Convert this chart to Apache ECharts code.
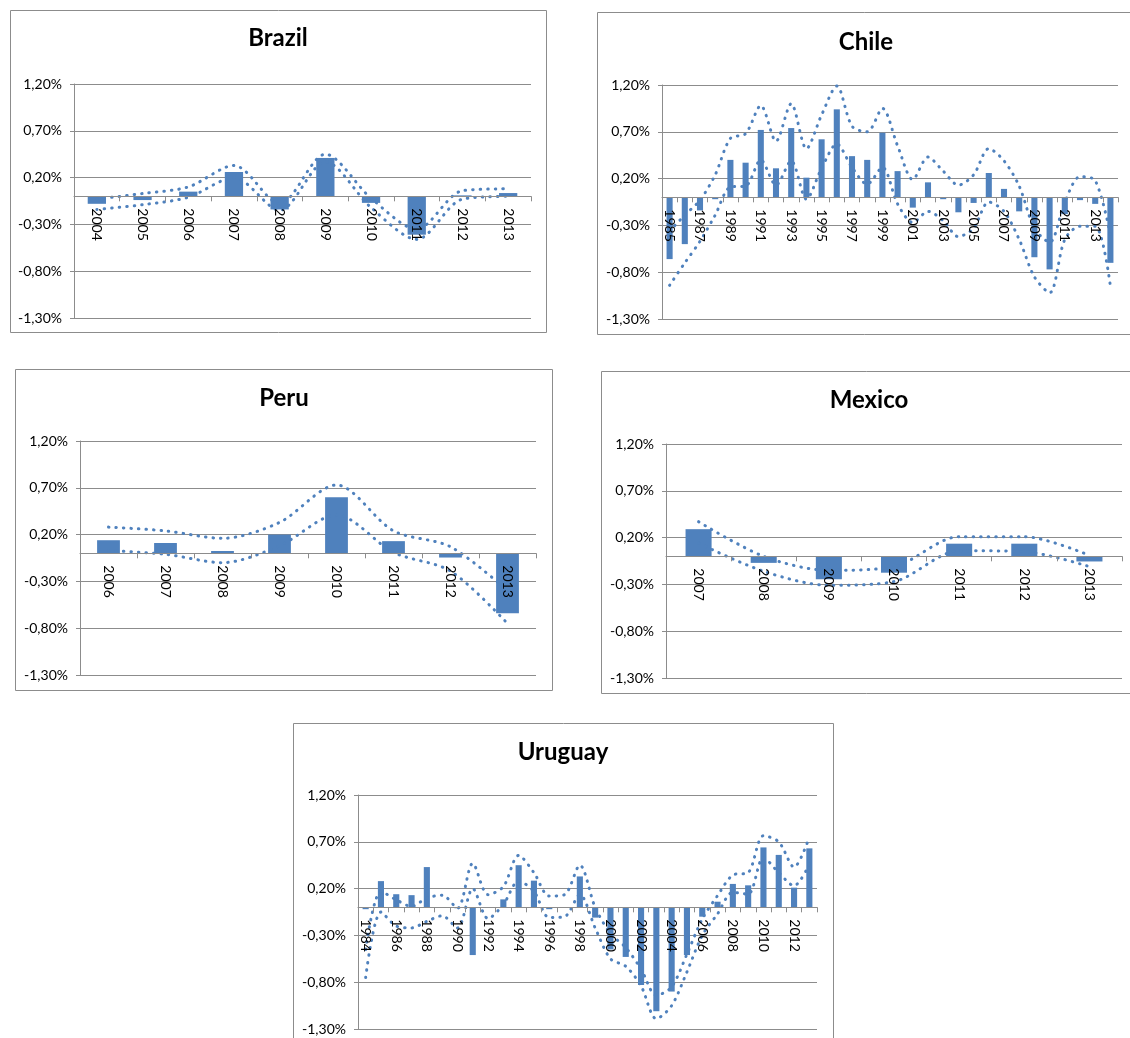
<!DOCTYPE html>
<html>
<head>
<meta charset="utf-8">
<script src="https://cdn.jsdelivr.net/npm/echarts@6/dist/echarts.min.js"></script>
<style>
html, body { margin: 0; padding: 0; background: #fff; }
#chart { width: 1130px; height: 1038px; }
</style>
</head>
<body>
<div id="chart"></div>
<script>
// Brazil
var brazilYears = ['2004', '2005', '2006', '2007', '2008', '2009', '2010', '2011', '2012', '2013'];
var brazilValues = [-0.08, -0.04, 0.05, 0.26, -0.14, 0.41, -0.07, -0.41, 0.01, 0.035];
var brazilUpper = [-0.03, 0.03, 0.10, 0.33, -0.08, 0.45, -0.02, -0.35, 0.06, 0.08];
var brazilLower = [-0.14, -0.09, -0.01, 0.20, -0.15, 0.37, -0.12, -0.46, -0.03, 0.0];

// Chile
var chileYears = ['1985', '1986', '1987', '1988', '1989', '1990', '1991', '1992', '1993', '1994',
  '1995', '1996', '1997', '1998', '1999', '2000', '2001', '2002', '2003', '2004',
  '2005', '2006', '2007', '2008', '2009', '2010', '2011', '2012', '2013', '2014'];
var chileValues = [-0.66, -0.50, -0.14, -0.02, 0.40, 0.37, 0.72, 0.31, 0.74, 0.21,
  0.62, 0.94, 0.44, 0.40, 0.69, 0.28, -0.11, 0.16, -0.02, -0.16,
  -0.06, 0.26, 0.09, -0.15, -0.64, -0.77, -0.18, -0.03, -0.07, -0.70];
var chileUpper = [-0.36, -0.19, -0.03, 0.24, 0.63, 0.68, 0.98, 0.60, 1.00, 0.52,
  0.88, 1.19, 0.76, 0.70, 0.95, 0.55, 0.19, 0.43, 0.28, 0.13,
  0.24, 0.52, 0.39, 0.12, -0.33, -0.48, -0.05, 0.22, 0.18, -0.40];
var chileLower = [-0.94, -0.70, -0.47, -0.19, 0.11, 0.12, 0.40, 0.13, 0.39, -0.02,
  0.31, 0.57, 0.32, 0.14, 0.32, -0.07, -0.27, -0.15, -0.25, -0.42,
  -0.33, -0.05, -0.15, -0.45, -0.85, -1.02, -0.45, -0.31, -0.31, -0.95];

// Peru
var peruYears = ['2006', '2007', '2008', '2009', '2010', '2011', '2012', '2013'];
var peruValues = [0.14, 0.11, 0.025, 0.20, 0.60, 0.13, -0.045, -0.64];
var peruUpper = [0.28, 0.24, 0.16, 0.33, 0.73, 0.24, 0.07, -0.40];
var peruLower = [0.03, -0.01, -0.10, 0.08, 0.41, 0.01, -0.19, -0.75];

// Mexico
var mexicoYears = ['2007', '2008', '2009', '2010', '2011', '2012', '2013'];
var mexicoValues = [0.29, -0.07, -0.245, -0.175, 0.135, 0.135, -0.055];
var mexicoUpper = [0.37, 0.0, -0.15, -0.11, 0.21, 0.21, 0.01];
var mexicoLower = [0.14, -0.16, -0.31, -0.27, 0.06, 0.05, -0.11];

// Uruguay
var uruguayYears = ['1984', '1985', '1986', '1987', '1988', '1989', '1990', '1991', '1992', '1993',
  '1994', '1995', '1996', '1997', '1998', '1999', '2000', '2001', '2002', '2003',
  '2004', '2005', '2006', '2007', '2008', '2009', '2010', '2011', '2012', '2013'];
var uruguayValues = [-0.02, 0.28, 0.14, 0.13, 0.43, 0.0, -0.01, -0.51, 0.0, 0.085,
  0.45, 0.285, -0.02, 0.0, 0.33, -0.11, -0.45, -0.53, -0.83, -1.11,
  -0.90, -0.51, -0.10, 0.06, 0.25, 0.235, 0.64, 0.56, 0.21, 0.63];
var uruguayUpper = [-0.45, 0.17, 0.08, 0.01, 0.10, 0.13, -0.01, 0.47, 0.135, 0.22,
  0.555, 0.37, 0.12, 0.135, 0.45, 0.0, -0.28, -0.43, -0.66, -0.94,
  -0.85, -0.50, -0.125, 0.125, 0.345, 0.37, 0.765, 0.70, 0.43, 0.75];
var uruguayLower = [-0.75, -0.05, -0.20, -0.22, -0.15, -0.09, -0.22, 0.20, -0.12, 0.03,
  0.28, 0.17, -0.11, -0.10, 0.135, -0.22, -0.55, -0.63, -0.84, -1.19,
  -1.05, -0.69, -0.30, -0.07, 0.16, 0.14, 0.53, 0.37, 0.23, 0.46];

// value axis (percent)
var yMin = -1.3;
var yMax = 1.2;
var yStep = 0.5;

var blue = '#4f81bd';
var gray = '#8c8c8c';
var font = 'Lato, "Liberation Sans", sans-serif';

var panels = [
  { name: 'Brazil', years: brazilYears, values: brazilValues, upper: brazilUpper, lower: brazilLower,
    frame: [10.5, 10.5, 536, 322], grid: [74, 84, 457, 234], title: [278, 26], every: 0 },
  { name: 'Chile', years: chileYears, values: chileValues, upper: chileUpper, lower: chileLower,
    frame: [597.5, 12.5, 560, 322], grid: [662, 85, 456, 234], title: [866, 30], every: 1 },
  { name: 'Peru', years: peruYears, values: peruValues, upper: peruUpper, lower: peruLower,
    frame: [15.5, 369.5, 537, 321], grid: [80, 441, 456, 234], title: [284, 386], every: 0 },
  { name: 'Mexico', years: mexicoYears, values: mexicoValues, upper: mexicoUpper, lower: mexicoLower,
    frame: [601.5, 371.5, 560, 322], grid: [666, 444, 456, 234], title: [869, 388], every: 0 },
  { name: 'Uruguay', years: uruguayYears, values: uruguayValues, upper: uruguayUpper, lower: uruguayLower,
    frame: [293.5, 723.5, 540, 330], grid: [358, 795, 459, 234], title: [563, 740], every: 1 }
];

function pct(v) {
  return v.toFixed(2).replace('.', ',') + '%';
}

var option = {
  backgroundColor: '#fff',
  animation: false,
  title: [],
  grid: [],
  xAxis: [],
  yAxis: [],
  series: [],
  graphic: []
};

panels.forEach(function (p, i) {
  // the category axis crosses the value axis at 0
  var zeroShift = -(0 - yMin) / (yMax - yMin) * p.grid[3];

  option.graphic.push({
    type: 'rect',
    z: -10,
    shape: { x: p.frame[0], y: p.frame[1], width: p.frame[2], height: p.frame[3] },
    style: { fill: '#fff', stroke: gray, lineWidth: 1 }
  });
  option.title.push({
    text: p.name,
    left: p.title[0],
    top: p.title[1],
    textAlign: 'center',
    padding: 0,
    textStyle: { fontFamily: font, fontWeight: 'bold', fontSize: 24, color: '#000' }
  });
  option.grid.push({
    left: p.grid[0], top: p.grid[1], width: p.grid[2], height: p.grid[3],
    containLabel: false
  });
  option.xAxis.push({
    type: 'category',
    gridIndex: i,
    data: p.years,
    position: 'bottom',
    offset: zeroShift,
    z: 5,
    axisLine: { onZero: false, lineStyle: { color: gray, width: 1 } },
    axisTick: { show: true, interval: 0, length: 5, lineStyle: { color: gray } },
    axisLabel: {
      rotate: -90, interval: p.every, margin: 12,
      fontFamily: font, fontSize: 14, color: '#000'
    },
    splitLine: { show: false }
  });
  option.yAxis.push({
    type: 'value',
    gridIndex: i,
    min: yMin,
    max: yMax,
    interval: yStep,
    axisLine: { show: true, lineStyle: { color: gray, width: 1 } },
    axisTick: { show: true, length: 4, lineStyle: { color: gray } },
    axisLabel: {
      margin: 12, fontFamily: font, fontSize: 14, color: '#000',
      formatter: pct
    },
    splitLine: { show: true, lineStyle: { color: gray, width: 1 } }
  });
  option.series.push({
    type: 'bar',
    name: p.name,
    xAxisIndex: i,
    yAxisIndex: i,
    data: p.values,
    barWidth: '40%',
    itemStyle: { color: blue }
  });
  [p.upper, p.lower].forEach(function (band) {
    option.series.push({
      type: 'line',
      xAxisIndex: i,
      yAxisIndex: i,
      data: band,
      smooth: 0.3,
      symbol: 'none',
      lineStyle: { color: blue, width: 3, type: [0.5, 7], cap: 'round' }
    });
  });
});

var chart = echarts.init(document.getElementById('chart'), null, { renderer: 'canvas' });
chart.setOption(option);
</script>
</body>
</html>
